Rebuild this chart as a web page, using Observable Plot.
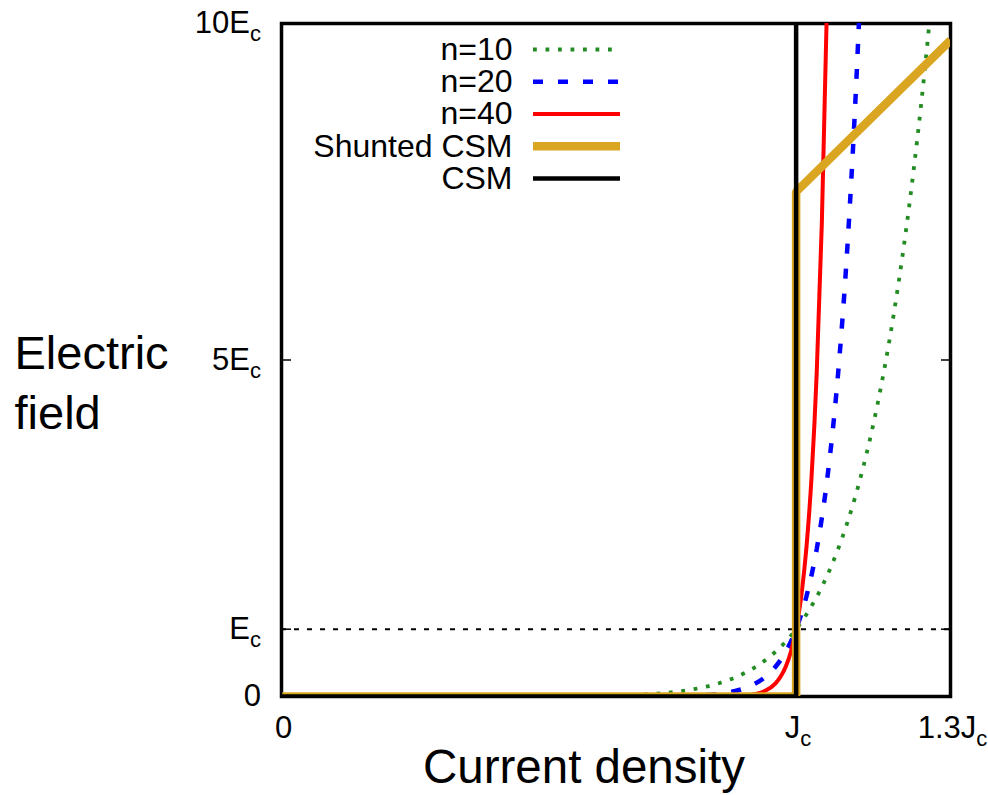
<!DOCTYPE html>
<html>
<head>
<meta charset="utf-8">
<script src="https://cdn.jsdelivr.net/npm/d3@7"></script>
<script src="https://cdn.jsdelivr.net/npm/@observablehq/plot@0.6"></script>
<style>
  html, body { margin: 0; padding: 0; background: #fff; }
</style>
</head>
<body>
<script>
// ---- data (J in units of Jc, E in units of Ec) ----
const J_n10 = [0, 0.5, 0.6, 0.7, 0.75, 0.8, 0.85, 0.9, 0.93, 0.96, 0.98, 1.0, 1.02, 1.05, 1.08, 1.1, 1.13, 1.16, 1.19, 1.22, 1.25, 1.27];
const E_n10 = [0, 0.001, 0.006, 0.028, 0.056, 0.107, 0.197, 0.349, 0.484, 0.665, 0.817, 1.0, 1.219, 1.629, 2.159, 2.594, 3.395, 4.411, 5.695, 7.305, 9.313, 10.915];

const J_n20 = [0, 0.7, 0.8, 0.85, 0.88, 0.9, 0.92, 0.94, 0.96, 0.98, 1.0, 1.02, 1.04, 1.06, 1.08, 1.1, 1.12, 1.13];
const E_n20 = [0, 0.001, 0.012, 0.039, 0.078, 0.122, 0.189, 0.290, 0.442, 0.668, 1.0, 1.486, 2.191, 3.207, 4.661, 6.727, 9.646, 11.52];

const J_n40 = [0, 0.85, 0.88, 0.9, 0.92, 0.94, 0.96, 0.97, 0.98, 0.99, 1.0, 1.01, 1.02, 1.03, 1.04, 1.05, 1.06];
const E_n40 = [0, 0.0015, 0.006, 0.015, 0.036, 0.084, 0.195, 0.296, 0.446, 0.669, 1.0, 1.489, 2.208, 3.262, 4.801, 7.04, 10.29];

const J_shunt = [0, 1, 1, 1.3];
const E_shunt = [0, 0, 7.5, 9.75];

const J_csm = [0, 1, 1];
const E_csm = [0, 0, 10];

const Ec_level = [1];

const xTickValues = [0, 1, 1.3];
const xTickLabels = ["0", "J_c", "1.3J_c"];
const yTickValues = [0, 1, 5, 10];
const yTickLabels = ["0", "E_c", "5E_c", "10E_c"];

const seriesLabels = ["n=10", "n=20", "n=40", "Shunted CSM", "CSM"];

// ---- layout ----
const W = 988, H = 795;
const mL = 281, mR = 38, mT = 23, mB = 99;
const yPx = d3.scaleLinear([0, 10], [H - mB, mT]);
const legendRowPx = seriesLabels.map((_, i) => 49 + i * 32.25);

const styles = [
  {stroke: "#228B22", strokeWidth: 3.8, strokeDasharray: "3.8,8.7"},
  {stroke: "#0000FF", strokeWidth: 4.5, strokeDasharray: "10,15"},
  {stroke: "#FF0000", strokeWidth: 4},
  {stroke: "#DAA520", strokeWidth: 8.5},
  {stroke: "#000000", strokeWidth: 4.5}
];
const seriesData = [
  d3.zip(J_n10, E_n10),
  d3.zip(J_n20, E_n20),
  d3.zip(J_n40, E_n40),
  d3.zip(J_shunt, E_shunt),
  d3.zip(J_csm, E_csm)
];

const fmtX = d => xTickLabels[xTickValues.indexOf(d)];
const fmtY = d => yTickLabels[yTickValues.indexOf(d)];

const marks = [
  Plot.frame({stroke: "black", strokeWidth: 3.5}),
  Plot.ruleY(Ec_level, {stroke: "black", strokeWidth: 2, strokeDasharray: "5,8"}),
];

seriesData.forEach((data, i) => {
  marks.push(Plot.line(data, {
    x: d => d[0], y: d => d[1],
    curve: i < 3 ? "monotone-x" : "linear",
    strokeLinecap: "butt",
    strokeLinejoin: "miter",
    clip: true,
    ...styles[i]
  }));
});

// legend
seriesLabels.forEach((label, i) => {
  marks.push(Plot.ruleY([yPx.invert(legendRowPx[i])], {
    insetLeft: 252, insetRight: 330, strokeLinecap: "butt", ...styles[i]
  }));
  marks.push(Plot.text([label], {
    y: () => yPx.invert(legendRowPx[i]),
    frameAnchor: "left", dx: 231,
    textAnchor: "end", fontSize: 32, fill: "black"
  }));
});

// tick marks (inward)
marks.push(
  Plot.axisY(yTickValues, {anchor: "left", tickSize: 10, insetLeft: 10, fill: "none", label: null, strokeWidth: 1.5}),
  Plot.axisY(yTickValues, {anchor: "right", tickSize: 10, insetRight: 10, fill: "none", label: null, strokeWidth: 1.5}),
  Plot.axisX(xTickValues, {anchor: "bottom", tickSize: 10, insetBottom: 10, fill: "none", label: null, strokeWidth: 1.5}),
  // tick labels
  Plot.axisY(yTickValues, {anchor: "left", tickSize: 0, tickPadding: 20.5, tickFormat: fmtY, fontSize: 31, label: null}),
  Plot.axisX(xTickValues, {anchor: "bottom", tickSize: 0, tickPadding: 19, tickFormat: fmtX, fontSize: 31, label: null, dx: 2}),
  // axis titles
  Plot.text(["Electric\nfield"], {frameAnchor: "left", dx: -267, dy: 20, textAnchor: "start", lineHeight: 1.27, fontSize: 47, fill: "black"}),
  Plot.text(["Current density"], {frameAnchor: "bottom", dx: -32, dy: 86, lineAnchor: "bottom", textAnchor: "middle", fontSize: 47.5, fill: "black"})
);

const svg = Plot.plot({
  width: W, height: H,
  marginLeft: mL, marginRight: mR, marginTop: mT, marginBottom: mB,
  x: {domain: [0, 1.3], label: null},
  y: {domain: [0, 10], label: null},
  style: {fontFamily: "'Liberation Sans', Arial, sans-serif", background: "white", color: "black", overflow: "visible"},
  marks
});

// subscripts
svg.querySelectorAll("text").forEach(t => {
  if (t.textContent.includes("_c")) {
    const main = t.textContent.split("_c")[0];
    t.textContent = main;
    const ts = document.createElementNS("http://www.w3.org/2000/svg", "tspan");
    ts.setAttribute("font-size", "22");
    ts.setAttribute("dy", "8");
    ts.textContent = "c";
    t.appendChild(ts);
  }
});

document.body.appendChild(svg);
</script>
</body>
</html>
